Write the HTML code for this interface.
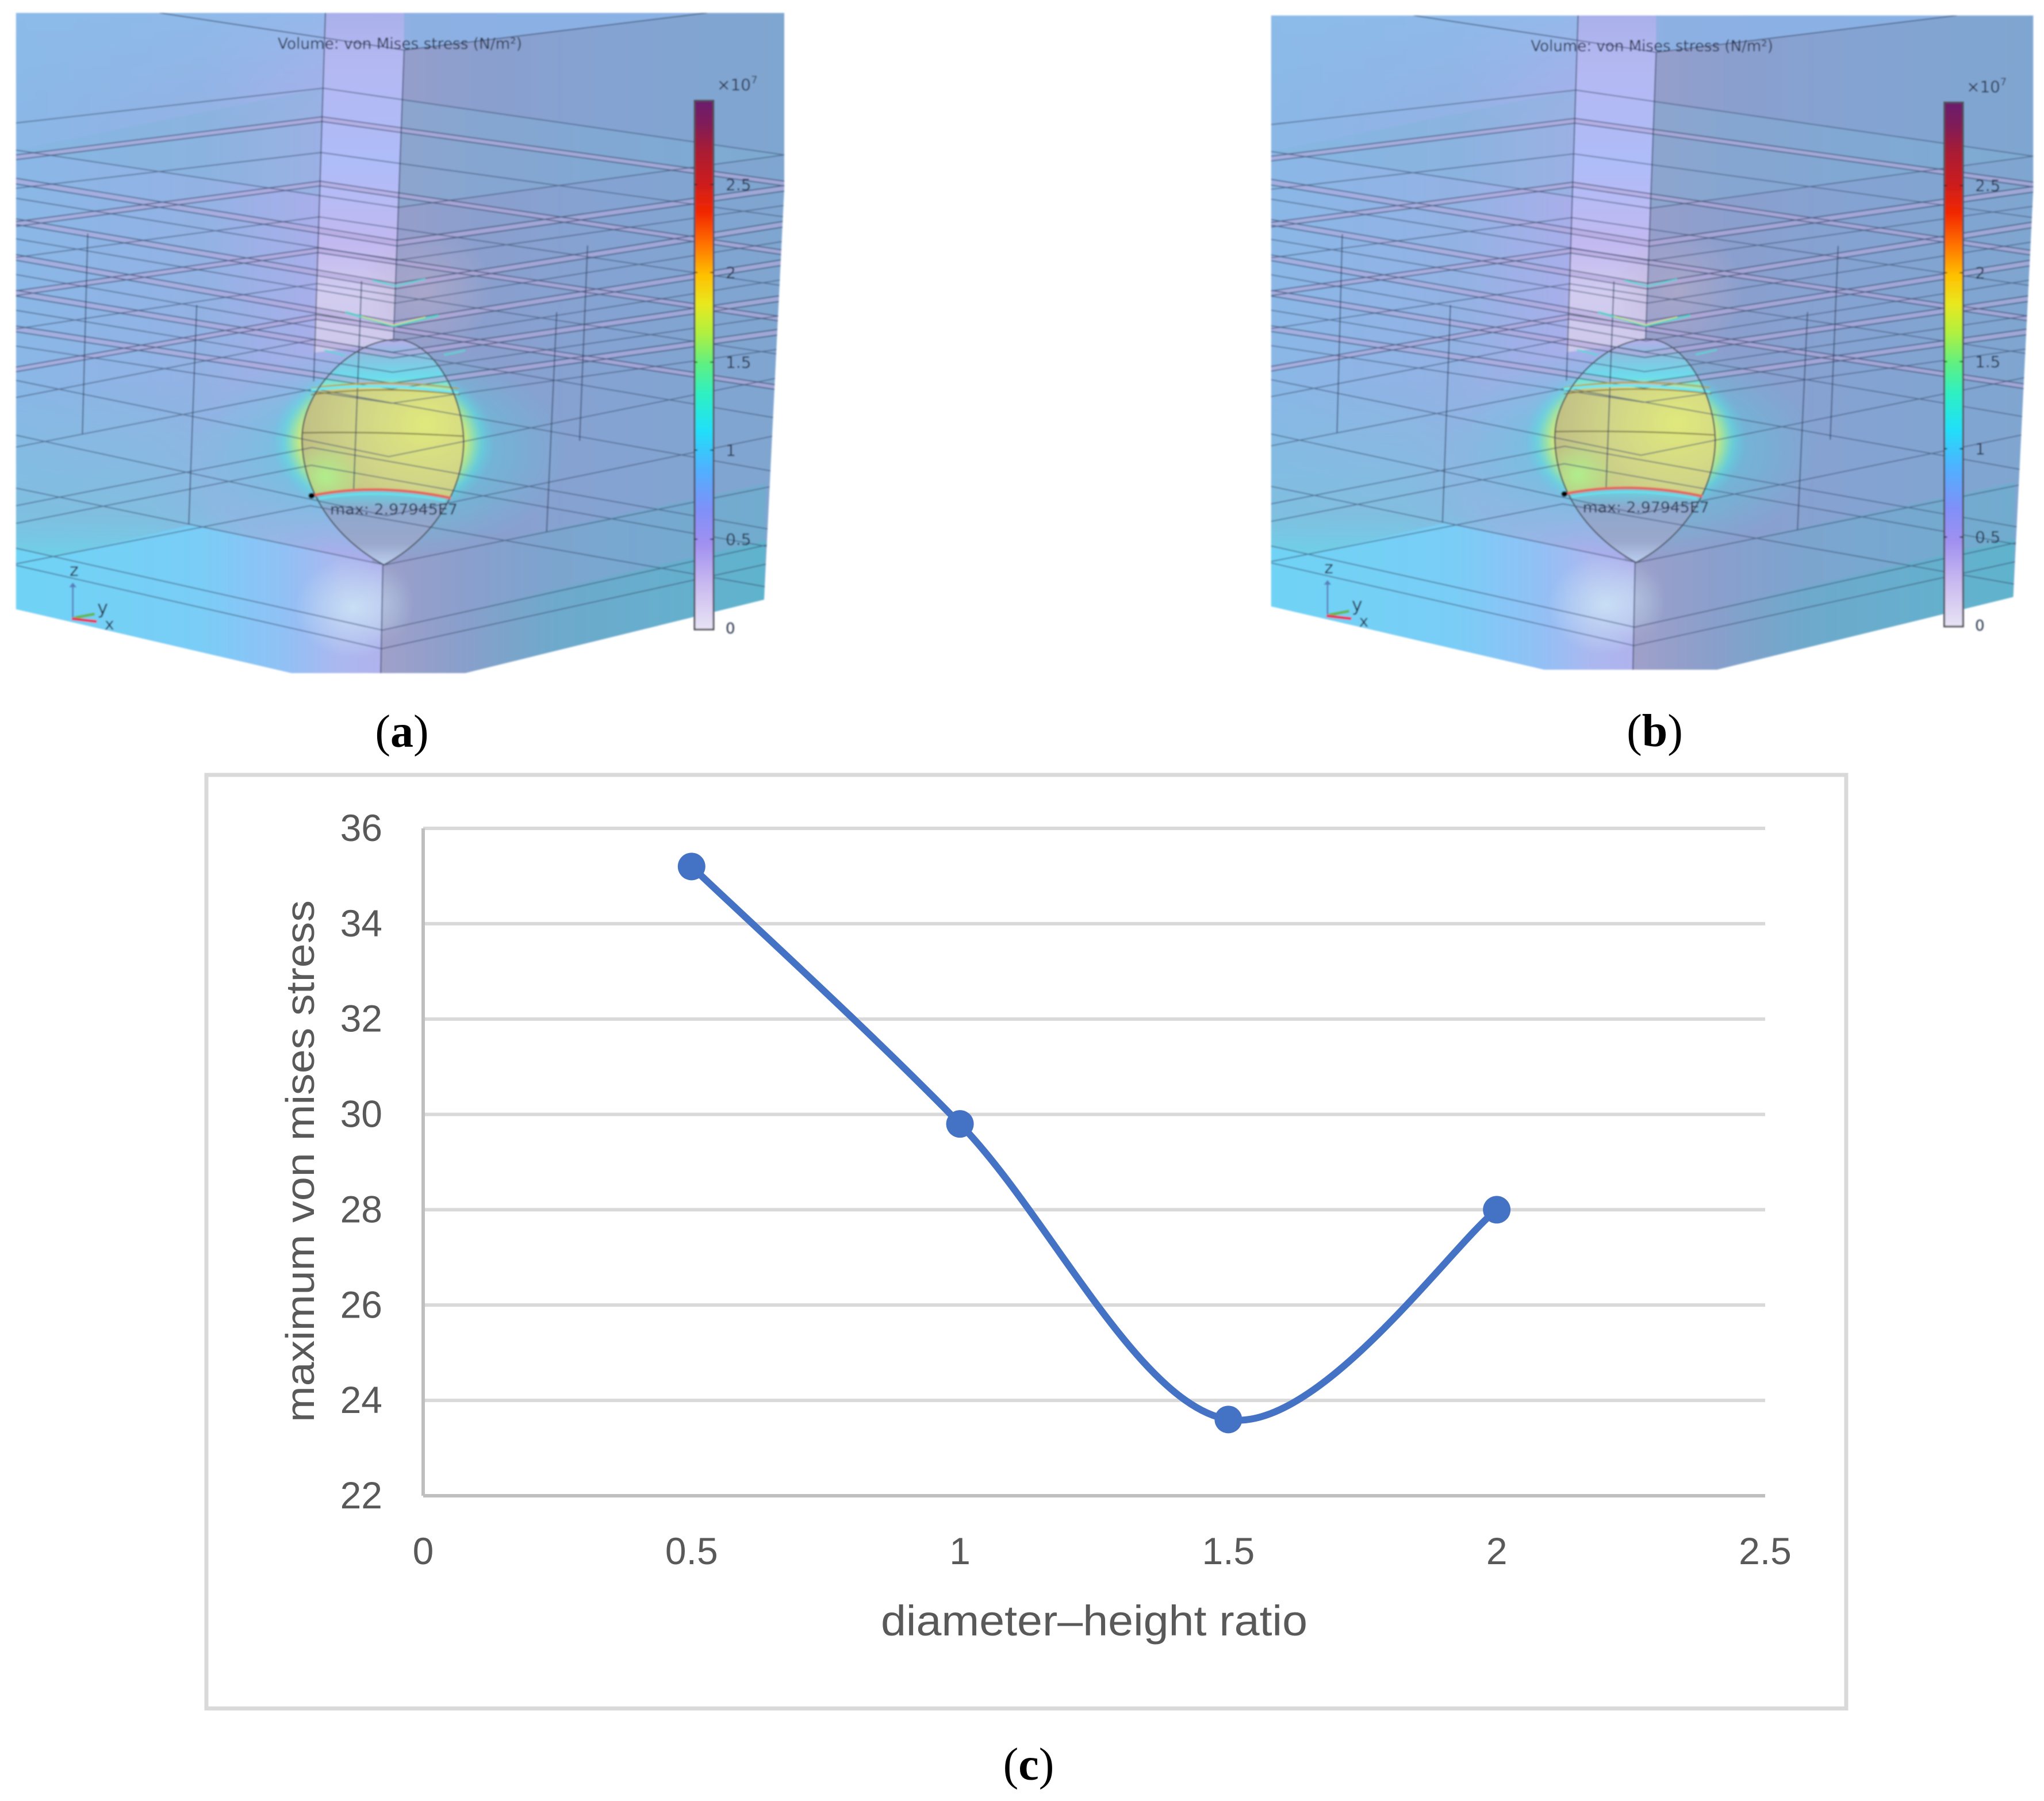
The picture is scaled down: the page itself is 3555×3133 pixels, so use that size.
<!DOCTYPE html>
<html>
<head>
<meta charset="utf-8">
<title>Von Mises stress figure</title>
<style>
html,body{margin:0;padding:0;background:#fff}
svg{display:block}
text{font-family:"Liberation Sans",sans-serif}
.cap{font-family:"Liberation Serif",serif;font-size:80px;fill:#000}
.cap tspan{font-weight:bold}
.sim{font-family:"DejaVu Sans",sans-serif;fill:#27314a}
.tick{font-size:66px;fill:#595959}
</style>
</head>
<body>
<svg id="root" width="3555" height="3133" viewBox="0 0 3555 3133" xmlns="http://www.w3.org/2000/svg">
<defs>
<filter id="soft" x="-2%" y="-2%" width="104%" height="104%"><feGaussianBlur stdDeviation="1.3"/></filter>
<clipPath id="panelClip"><path d="M30,27 L1475,27 L1475,395 L1437,1258 L875,1412 L548,1412 L30,1278 Z"/></clipPath>
<clipPath id="ellClip"><path d="M745,712 C815,714 872,830 872,930 C870,1030 815,1130 722,1185 C630,1130 568,1030 568,920 C568,820 660,714 745,712 Z"/></clipPath>
<linearGradient id="gFade" gradientUnits="userSpaceOnUse" x1="280" y1="0" x2="620" y2="0"><stop offset="0" stop-color="#fff"/><stop offset="1" stop-color="#000"/></linearGradient>
<mask id="tintMask" maskUnits="userSpaceOnUse" x="0" y="780" width="700" height="440"><rect x="0" y="780" width="700" height="440" fill="url(#gFade)"/></mask>
<linearGradient id="gLeft" gradientUnits="userSpaceOnUse" x1="30" y1="0" x2="620" y2="0"><stop offset="0" stop-color="#8ab7e6"/><stop offset=".6" stop-color="#93b2e4"/><stop offset="1" stop-color="#abaeea"/></linearGradient>
<linearGradient id="gTopL" gradientUnits="userSpaceOnUse" x1="0" y1="27" x2="0" y2="260"><stop offset="0" stop-color="#8cbcea" stop-opacity=".7"/><stop offset="1" stop-color="#8cbcea" stop-opacity="0"/></linearGradient>
<linearGradient id="gLowWall" gradientUnits="userSpaceOnUse" x1="0" y1="800" x2="0" y2="1170"><stop offset="0" stop-color="#78c4dc" stop-opacity="0"/><stop offset=".75" stop-color="#78c4dc" stop-opacity=".6"/><stop offset="1" stop-color="#6cd2e8" stop-opacity=".95"/></linearGradient>
<linearGradient id="gRight" gradientUnits="userSpaceOnUse" x1="750" y1="0" x2="1475" y2="0"><stop offset="0" stop-color="#959ecb"/><stop offset=".22" stop-color="#8a9fce"/><stop offset=".55" stop-color="#84a3d2"/><stop offset="1" stop-color="#7fa6d0"/></linearGradient>
<linearGradient id="gCol" gradientUnits="userSpaceOnUse" x1="0" y1="27" x2="0" y2="720"><stop offset="0" stop-color="#a9b0ea"/><stop offset=".15" stop-color="#b4b8f2"/><stop offset=".45" stop-color="#aebcf8"/><stop offset=".7" stop-color="#c2b9f0"/><stop offset=".85" stop-color="#d2cdf0"/><stop offset="1" stop-color="#cfc9ec"/></linearGradient>
<linearGradient id="gLowL" gradientUnits="userSpaceOnUse" x1="30" y1="0" x2="720" y2="0"><stop offset="0" stop-color="#6fd3f5"/><stop offset=".5" stop-color="#79cdf6"/><stop offset=".74" stop-color="#92c0f5"/><stop offset=".88" stop-color="#abb8f0"/><stop offset="1" stop-color="#b0b2ec"/></linearGradient>
<linearGradient id="gLowR" gradientUnits="userSpaceOnUse" x1="720" y1="0" x2="1437" y2="0"><stop offset="0" stop-color="#9fa0c9"/><stop offset=".2" stop-color="#8a9fcb"/><stop offset=".45" stop-color="#6ea9cc"/><stop offset="1" stop-color="#5fb3cd"/></linearGradient>
<radialGradient id="gPale"><stop offset="0" stop-color="#cfeaf6" stop-opacity=".8"/><stop offset="1" stop-color="#cfeaf6" stop-opacity="0"/></radialGradient>
<radialGradient id="gHaze"><stop offset="0" stop-color="#bdaec8" stop-opacity=".55"/><stop offset="1" stop-color="#bdaec8" stop-opacity="0"/></radialGradient>
<radialGradient id="gTeal"><stop offset="0" stop-color="#5cc8dc" stop-opacity=".75"/><stop offset=".55" stop-color="#5cc8dc" stop-opacity=".55"/><stop offset="1" stop-color="#5cc8dc" stop-opacity="0"/></radialGradient>
<radialGradient id="gHalo"><stop offset="0" stop-color="#e0e870"/><stop offset=".72" stop-color="#d8e878"/><stop offset=".8" stop-color="#9ce8a0" stop-opacity=".8"/><stop offset=".88" stop-color="#62e0dc" stop-opacity=".5"/><stop offset="1" stop-color="#62c8e8" stop-opacity="0"/></radialGradient>
<linearGradient id="gEllTop" gradientUnits="userSpaceOnUse" x1="0" y1="712" x2="0" y2="812"><stop offset="0" stop-color="#b8aeea"/><stop offset=".35" stop-color="#8ac0e0"/><stop offset=".8" stop-color="#6cdcec"/><stop offset="1" stop-color="#90e8c0"/></linearGradient>
<radialGradient id="gEllMid" gradientUnits="userSpaceOnUse" cx="800" cy="890" r="260"><stop offset="0" stop-color="#e0e87c"/><stop offset=".5" stop-color="#d0d488"/><stop offset="1" stop-color="#bcba84"/></radialGradient>
<radialGradient id="gEllGreen" gradientUnits="userSpaceOnUse" cx="612" cy="1000" r="70"><stop offset="0" stop-color="#b0ee8c"/><stop offset="1" stop-color="#b0ee8c" stop-opacity="0"/></radialGradient>
<linearGradient id="gEllLow" gradientUnits="userSpaceOnUse" x1="0" y1="1040" x2="0" y2="1185"><stop offset="0" stop-color="#6fc8dc"/><stop offset=".2" stop-color="#8fa6cc"/><stop offset=".7" stop-color="#9aa8cc"/><stop offset="1" stop-color="#bcd0f2"/></linearGradient>
<linearGradient id="gBar" x1="0" y1="0" x2="0" y2="1">
<stop offset="0" stop-color="#6a1a6c"/><stop offset=".045" stop-color="#801a58"/><stop offset=".094" stop-color="#a81c34"/><stop offset=".15" stop-color="#c81c20"/><stop offset=".212" stop-color="#f22800"/><stop offset=".27" stop-color="#ff7000"/><stop offset=".33" stop-color="#ffc000"/><stop offset=".385" stop-color="#e8e820"/><stop offset=".44" stop-color="#b0f040"/><stop offset=".497" stop-color="#60f080"/><stop offset=".552" stop-color="#30f0c0"/><stop offset=".622" stop-color="#20e0f8"/><stop offset=".698" stop-color="#50b0ff"/><stop offset=".774" stop-color="#8090f8"/><stop offset=".837" stop-color="#a090f0"/><stop offset=".913" stop-color="#c8b8f0"/><stop offset="1" stop-color="#e8e4f4"/>
</linearGradient>
</defs>

<g id="panelA" filter="url(#soft)">
  <g transform="scale(.9248 .8292)">
    <g clip-path="url(#panelClip)">
      <rect x="20" y="20" width="720" height="1400" fill="url(#gLeft)"/>
      <rect x="20" y="20" width="620" height="260" fill="url(#gTopL)"/>
      <rect x="20" y="800" width="600" height="400" fill="url(#gLowWall)" mask="url(#tintMask)"/>
      <rect x="700" y="20" width="790" height="1400" fill="url(#gRight)"/>
      <path d="M760,27 L1330,27 L760,105 Z" fill="#8cb4e8" opacity=".8"/>
      <path d="M30,315 L605,185 L1475,325 L745,435 Z" fill="#79b6d8" opacity=".3"/>
      <path d="M612,27 L760,27 L760,105 L740,720 L590,740 Z" fill="url(#gCol)"/>
      <ellipse cx="800" cy="610" rx="130" ry="130" fill="url(#gHaze)"/>
      <ellipse cx="720" cy="945" rx="350" ry="230" fill="url(#gTeal)"/>
      <path d="M30,1153 L103,1167 L359,1102 L720,1185 L716,1412 L548,1412 L30,1278 Z" fill="url(#gLowL)"/>
      <ellipse cx="665" cy="1275" rx="110" ry="105" fill="url(#gPale)"/>
      <path d="M720,1185 L1440,1015 L1437,1258 L875,1412 L716,1412 Z" fill="url(#gLowR)" opacity=".45"/>
      <path d="M720,1320 L1440,1135 L1437,1258 L875,1412 L716,1412 Z" fill="url(#gLowR)"/>
      <ellipse cx="725" cy="1265" rx="55" ry="85" fill="url(#gPale)" opacity=".3"/>
      <ellipse cx="720" cy="925" rx="212" ry="170" fill="url(#gHalo)"/>
      <g clip-path="url(#ellClip)">
        <rect x="560" y="700" width="320" height="120" fill="url(#gEllTop)"/>
        <path d="M560,815 Q720,790 880,825 L880,1050 Q720,1010 560,1045 Z" fill="url(#gEllMid)"/>
        <circle cx="612" cy="1000" r="70" fill="url(#gEllGreen)"/>
        <path d="M560,1042 Q720,1012 880,1050 L880,1190 L560,1190 Z" fill="url(#gEllLow)"/>
      </g>
      <path id="bandFill" fill="none" stroke="#b6a9dc" stroke-width="8" opacity=".6"/>
      <path id="bandEdges" fill="none" stroke="#33425f" stroke-width="2.2" opacity=".7"/>
      <path id="thinLines" fill="none" stroke="#3a4e70" stroke-width="2.2" opacity=".65"/>
      <path d="M300,27 L760,105 L1330,27 M612,27 L590,800 M760,105 L740,712 M720,1185 L716,1412 M165,490 L155,910 M1105,515 L1090,925 M370,640 L355,1100 M1047,655 L1028,1115 M680,590 L665,1030" fill="none" stroke="#2f4060" stroke-width="2.2" opacity=".7"/>
      <path d="M700,588 L745,600 L800,585 M610,735 L650,746 M835,745 L875,735" fill="none" stroke="#56d8d4" stroke-width="4" opacity=".8"/>
      <path d="M650,655 L740,684 L825,662" fill="none" stroke="#50d8cc" stroke-width="5" opacity=".85"/>
      <path d="M680,664 L740,682 L800,665" fill="none" stroke="#e4e470" stroke-width="2"/>
      <path d="M585,815 Q720,792 862,815" fill="none" stroke="#b0a040" stroke-width="3"/>
      <path d="M585,818 Q720,800 862,825" fill="none" stroke="#70e8f0" stroke-width="6"/>
      <path d="M585,828 Q720,808 865,828" fill="none" stroke="#8a8038" stroke-width="2.5"/>
      <path d="M568,908 Q720,905 870,915" fill="none" stroke="#5a5430" stroke-width="2.5" opacity=".75"/>
      <path d="M745,712 C815,714 872,830 872,930 C870,1030 815,1130 722,1185 C630,1130 568,1030 568,920 C568,820 660,714 745,712 Z" fill="none" stroke="#4e5560" stroke-width="2.6"/>
      <path d="M586,1040 Q710,1012 848,1045" fill="none" stroke="#e06a60" stroke-width="6"/>
      <path d="M600,1046 Q710,1024 838,1050" fill="none" stroke="#6cdce8" stroke-width="5"/>
      <ellipse cx="586" cy="1040" rx="6" ry="6" fill="#000"/>
      <path d="M137,1295 L137,1228" fill="none" stroke="#5a7fc0" stroke-width="3"/>
      <path d="M130,1232 L137,1222 L144,1232 Z" fill="#5a7fc0"/>
      <path d="M140,1296 L178,1288" fill="none" stroke="#64b850" stroke-width="6"/>
      <path d="M135,1298 L182,1304" fill="none" stroke="#e8305c" stroke-width="6"/>
    </g>
  </g>
  <text class="sim" x="483" y="85" font-size="27" textLength="425" lengthAdjust="spacingAndGlyphs">Volume: von Mises stress (N/m²)</text>
  <text class="sim" x="574" y="895" font-size="26" textLength="222" lengthAdjust="spacingAndGlyphs">max: 2.97945E7</text>
  <text class="sim" x="121" y="1002" font-size="30">z</text>
  <text class="sim" x="169" y="1068" font-size="32">y</text>
  <text class="sim" x="182" y="1095" font-size="28">x</text>
  <rect x="1208" y="175" width="33" height="920" fill="url(#gBar)" stroke="#4f4f55" stroke-width="3"/>
  <path d="M1207,321 h6 M1235,321 h6 M1207,474 h6 M1235,474 h6 M1207,630 h6 M1235,630 h6 M1207,783 h6 M1235,783 h6 M1207,938 h6 M1235,938 h6" stroke="#222" stroke-width="2"/>
  <text class="sim" x="1247" y="157" font-size="28">×10<tspan font-size="18" dy="-12">7</tspan></text>
  <text class="sim" x="1262" y="331" font-size="28">2.5</text>
  <text class="sim" x="1262" y="484" font-size="28">2</text>
  <text class="sim" x="1262" y="640" font-size="28">1.5</text>
  <text class="sim" x="1262" y="793" font-size="28">1</text>
  <text class="sim" x="1262" y="948" font-size="28">0.5</text>
  <text class="sim" x="1262" y="1102" font-size="26">0</text>
</g>

<text class="cap" x="699" y="1299" text-anchor="middle">(<tspan>a</tspan>)</text>
<text class="cap" x="2878" y="1298" text-anchor="middle">(<tspan>b</tspan>)</text>

<rect x="359" y="1348" width="2852" height="1624" fill="#fff" stroke="#D9D9D9" stroke-width="7"/>
<g id="grid"></g>
<g id="axes"></g>
<g id="yLabels"></g>
<g id="xLabels"></g>
<path id="curve" fill="none" stroke="#4472C4" stroke-width="12" stroke-linecap="round"/>
<g id="points"></g>
<text x="546" y="2020" transform="rotate(-90 546 2020)" text-anchor="middle" font-size="70" fill="#595959" textLength="908" lengthAdjust="spacingAndGlyphs">maximum von mises stress</text>
<text x="1532" y="2845" font-size="74" fill="#595959" textLength="742" lengthAdjust="spacingAndGlyphs">diameter–height ratio</text>
<text class="cap" x="1789" y="3096" text-anchor="middle">(<tspan>c</tspan>)</text>

<script>
var xTickValues = [0, 0.5, 1, 1.5, 2, 2.5];
var xTickLabels = ['0', '0.5', '1', '1.5', '2', '2.5'];
var yTickValues = [22, 24, 26, 28, 30, 32, 34, 36];
var yTickLabels = ['22', '24', '26', '28', '30', '32', '34', '36'];
var diameterHeightRatio = [0.5, 1, 1.5, 2];
var maxVonMisesStress = [35.2, 29.8, 23.6, 28];

var NS = 'http://www.w3.org/2000/svg';
function xScale(v) { return 736 + (v - 0) / (2.5 - 0) * (3070 - 736); }
function yScale(v) { return 2602 - (v - 22) / (36 - 22) * (2602 - 1441); }
function mk(tag, parentId) {
  var el = document.createElementNS(NS, tag);
  document.getElementById(parentId).appendChild(el);
  return el;
}

/* chart */
yTickValues.forEach(function (v, i) {
  var y = yScale(v);
  if (i > 0) {
    var g = mk('line', 'grid');
    
    
    g.setAttribute('x1', xScale(0));
    g.setAttribute('x2', xScale(2.5));
    g.setAttribute('y1', y);
    g.setAttribute('y2', y);
    g.setAttribute('stroke', '#D9D9D9');
    g.setAttribute('stroke-width', '6');
  }
  var t = mk('text', 'yLabels');
  
  
  t.setAttribute('class', 'tick');
  t.setAttribute('x', 665);
  t.setAttribute('y', y + 22);
  t.setAttribute('text-anchor', 'end');
  t.textContent = yTickLabels[i];
});
xTickValues.forEach(function (v, i) {
  var t = mk('text', 'xLabels');
  
  
  t.setAttribute('class', 'tick');
  t.setAttribute('x', xScale(v));
  t.setAttribute('y', 2721);
  t.setAttribute('text-anchor', 'middle');
  t.textContent = xTickLabels[i];
});
var xAxis = mk('line', 'axes');


xAxis.setAttribute('x1', xScale(0));
xAxis.setAttribute('x2', xScale(2.5));
xAxis.setAttribute('y1', yScale(22));
xAxis.setAttribute('y2', yScale(22));
xAxis.setAttribute('stroke', '#BFBFBF');
xAxis.setAttribute('stroke-width', '6');
var yAxis = mk('line', 'axes');


yAxis.setAttribute('x1', xScale(0));
yAxis.setAttribute('x2', xScale(0));
yAxis.setAttribute('y1', yScale(36));
yAxis.setAttribute('y2', yScale(22));
yAxis.setAttribute('stroke', '#BFBFBF');
yAxis.setAttribute('stroke-width', '6');

var px = diameterHeightRatio.map(function (v, i) { return [xScale(v), yScale(maxVonMisesStress[i])]; });
var d = 'M' + px[0][0] + ',' + px[0][1];
for (var i = 0; i < px.length - 1; i++) {
  var p0 = px[Math.max(i - 1, 0)], p1 = px[i], p2 = px[i + 1], p3 = px[Math.min(i + 2, px.length - 1)];
  d += ' C' + (p1[0] + (p2[0] - p0[0]) / 6) + ',' + (p1[1] + (p2[1] - p0[1]) / 6) + ' ' +
       (p2[0] - (p3[0] - p1[0]) / 6) + ',' + (p2[1] - (p3[1] - p1[1]) / 6) + ' ' + p2[0] + ',' + p2[1];
}
document.getElementById('curve').setAttribute('d', d);
px.forEach(function (p) {
  var c = mk('circle', 'points');
  
  
  c.setAttribute('cx', p[0]);
  c.setAttribute('cy', p[1]);
  c.setAttribute('r', 24);
  c.setAttribute('fill', '#4472C4');
});

/* 3D model line work (scene geometry, not chart data) */
function cornerFront(y) { return 760 - 0.0337 * (y - 105); }
function cornerBack(y) { return 612 - 0.0278 * (y - 27); }
var frontPlain = [[435, 315, 325], [958, 798, 790], [1082, 913, 910], [1185, 1024, 1015], [1322, 1150, 1135], [1361, 1186, 1175]];
var frontBand = [[510, 380, 395], [600, 465, 470], [680, 540, 550], [745, 615, 625], [810, 690, 695]];
var backPlain = [[185, 258, 325], [320, 395, 455], [455, 540, 600], [595, 690, 745], [712, 834, 880], [816, 938, 993], [939, 1061, 1116], [976, 1098, 1153], [1061, 1183, 1238]];
var backBand = [[250, 330, 385], [385, 470, 530], [525, 615, 670], [665, 775, 815]];
function vee(cx, r, off) {
  return 'M30,' + (r[1] + off) + ' L' + cx + ',' + (r[0] + off) + ' L1475,' + (r[2] + off) + ' ';
}
var bands = '', edges = '', thin = '';
frontBand.forEach(function (r) {
  var c = cornerFront(r[0]);
  bands += vee(c, r, 0);
  edges += vee(c, r, -6) + vee(c, r, 6);
  thin += vee(c, r, 36);
});
backBand.forEach(function (r) {
  var c = cornerBack(r[0]);
  bands += vee(c, r, 0);
  edges += vee(c, r, -5) + vee(c, r, 5);
});
frontPlain.forEach(function (r) { thin += vee(cornerFront(r[0]), r, 0); });
backPlain.forEach(function (r) { thin += vee(cornerBack(r[0]), r, 0); });
document.getElementById('bandFill').setAttribute('d', bands);
document.getElementById('bandEdges').setAttribute('d', edges);
document.getElementById('thinLines').setAttribute('d', thin);

/* panel (b) is the same model at a slightly smaller scale */
var panelA = document.getElementById('panelA');
var panelB = panelA.cloneNode(true);
panelB.setAttribute('id', 'panelB');

panelB.setAttribute('transform', 'translate(2183.2 4.7) scale(.992 .991)');
panelB.querySelectorAll('[id]').forEach(function (n) { n.removeAttribute('id'); });
panelA.parentNode.insertBefore(panelB, panelA.nextSibling);
</script>
</svg>
</body>
</html>
